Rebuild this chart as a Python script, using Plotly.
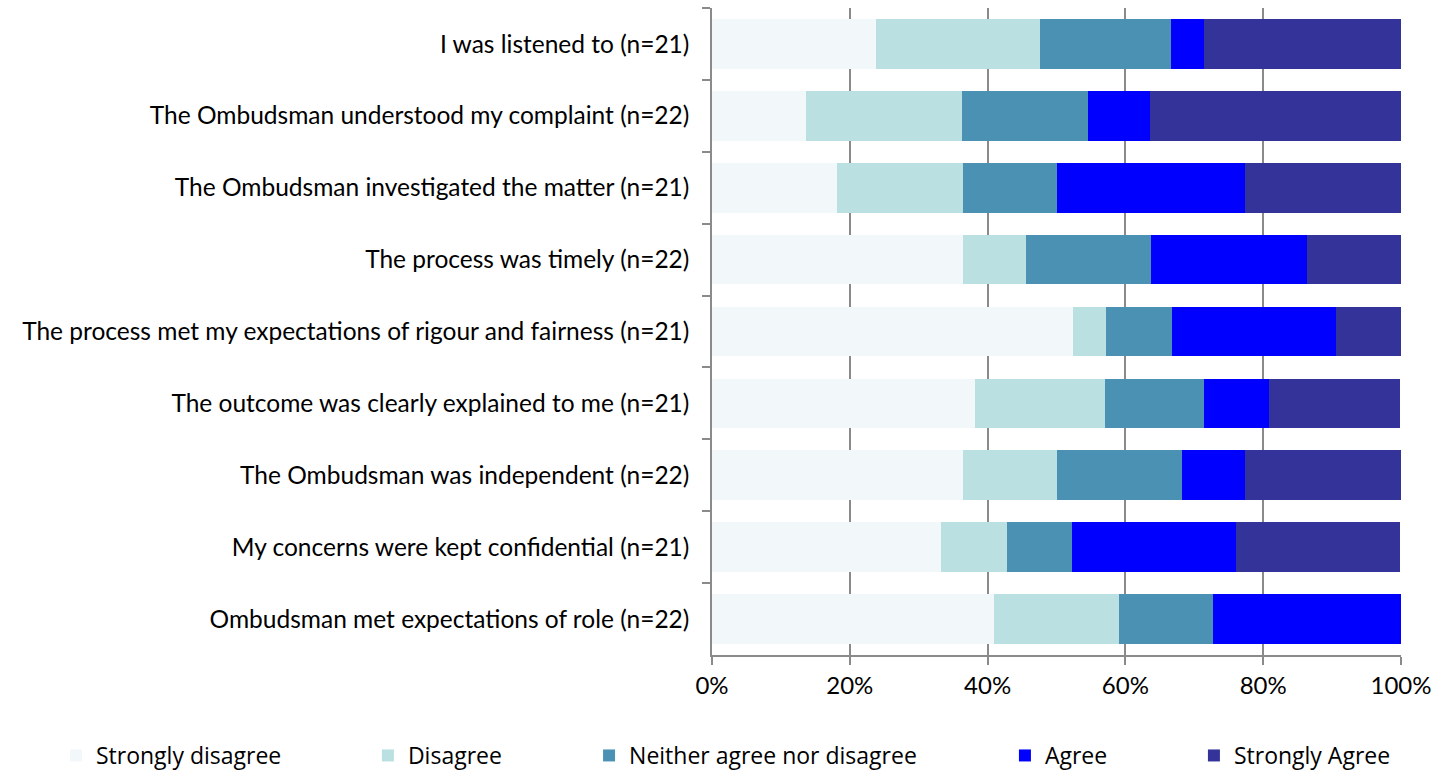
import plotly.graph_objects as go

categories = [
    "I was listened to (n=21)",
    "The Ombudsman understood my complaint (n=22)",
    "The Ombudsman investigated the matter (n=21)",
    "The process was timely (n=22)",
    "The process met my expectations of rigour and fairness (n=21)",
    "The outcome was clearly explained to me (n=21)",
    "The Ombudsman was independent (n=22)",
    "My concerns were kept confidential (n=21)",
    "Ombudsman met expectations of role (n=22)",
]
series_names = ["Strongly disagree", "Disagree", "Neither agree nor disagree", "Agree", "Strongly Agree"]
strongly_disagree = [23.8, 13.6, 18.2, 36.4, 52.4, 38.1, 36.4, 33.3, 40.9]
disagree = [23.8, 22.7, 18.2, 9.1, 4.8, 19.0, 13.6, 9.5, 18.2]
neither = [19.0, 18.2, 13.6, 18.2, 9.5, 14.3, 18.2, 9.5, 13.6]
agree = [4.8, 9.1, 27.3, 22.7, 23.8, 9.5, 9.1, 23.8, 27.3]
strongly_agree = [28.6, 36.4, 22.7, 13.6, 9.5, 19.0, 22.7, 23.8, 0.0]
x_ticks = [0, 20, 40, 60, 80, 100]
x_tick_labels = ["0%", "20%", "40%", "60%", "80%", "100%"]

values = [strongly_disagree, disagree, neither, agree, strongly_agree]
colors = ["#F2F7FA", "#BBE0E1", "#4A91B4", "#0000FF", "#333399"]
legend_x = [0.039, 0.2564, 0.4105, 0.7003, 0.832]

fig = go.Figure()
for i, (name, vals, col) in enumerate(zip(series_names, values, colors)):
    lg = "legend" if i == 0 else f"legend{i+1}"
    fig.add_trace(go.Bar(
        y=categories, x=vals, name=name, orientation="h",
        marker=dict(color=col, line=dict(width=0)),
        legend=lg,
    ))

layout_legends = {}
for i, lx in enumerate(legend_x):
    key = "legend" if i == 0 else f"legend{i+1}"
    layout_legends[key] = dict(
        x=lx, y=0.0, xref="container", yref="container", xanchor="left", yanchor="bottom",
        orientation="h", font=dict(family="Open Sans", size=23, color="#000000"),
        bgcolor="rgba(0,0,0,0)", itemwidth=30, traceorder="normal",
    )

fig.update_layout(
    barmode="stack",
    bargap=0.31,
    width=1435, height=777,
    margin=dict(l=712, r=34, t=8, b=122, autoexpand=False),
    paper_bgcolor="white", plot_bgcolor="white",
    font=dict(family="Lato", size=24, color="#000000"),
    showlegend=True,
    **layout_legends,
)
fig.update_xaxes(
    range=[0, 100], tickvals=x_ticks, ticktext=x_tick_labels,
    showgrid=True, gridcolor="#8A8A8A", gridwidth=1.5,
    showline=True, linecolor="#8A8A8A", linewidth=1.5,
    ticks="outside", ticklen=8, tickcolor="#8A8A8A", tickwidth=1.5,
    tickfont=dict(family="Lato", size=24), zeroline=False, automargin=False,
)
fig.update_yaxes(
    autorange="reversed", tickson="boundaries",
    showline=True, linecolor="#8A8A8A", linewidth=1.5,
    ticks="outside", ticklen=8, tickcolor="#8A8A8A", tickwidth=1.5,
    tickfont=dict(family="Lato", size=24.5), ticklabelstandoff=16,
    showgrid=False, automargin=False,
)
fig.write_html("out.html", config={"displayModeBar": False},
               post_script="document.body.style.margin='0px';")
